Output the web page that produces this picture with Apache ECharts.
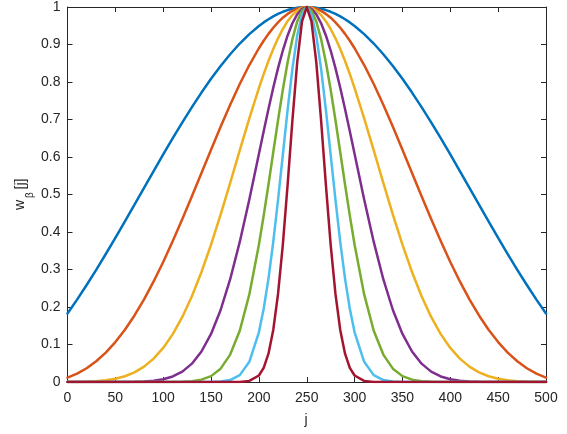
<!DOCTYPE html>
<html>
<head>
<meta charset="utf-8">
<script src="https://cdn.jsdelivr.net/npm/echarts@6/dist/echarts.min.js"></script>
<style>
html,body{margin:0;padding:0;background:#fff;}
#main{width:567px;height:434px;}
</style>
</head>
<body>
<div id="main"></div>
<script>
// j positions (shared sample grid)
const jValues = [0,10,20,30,40,50,60,70,80,90,100,110,120,130,140,150,160,170,180,190,200,
  205,210,215,220,225,230,235,240,245,250,255,260,265,270,275,280,285,290,295,
  300,310,320,330,340,350,360,370,380,390,400,410,420,430,440,450,460,470,480,490,500];

const xTicks = [0,50,100,150,200,250,300,350,400,450,500];
const yTicks = [0,0.1,0.2,0.3,0.4,0.5,0.6,0.7,0.8,0.9,1];

const wBlue = [0.1826,0.2196,0.2586,0.2992,0.3413,0.3845,0.4285,0.4731,0.5179,0.5625,0.6067,0.6501,0.6922,0.7329,0.7718,0.8085,0.8427,0.8741,0.9026,0.9277,0.9494,
  0.9589,0.9674,0.9750,0.9816,0.9872,0.9918,0.9954,0.9979,0.9995,1,0.9995,0.9979,0.9954,0.9918,0.9872,0.9816,0.9750,0.9674,0.9589,
  0.9494,0.9277,0.9026,0.8741,0.8427,0.8085,0.7718,0.7329,0.6922,0.6501,0.6067,0.5625,0.5179,0.4731,0.4285,0.3845,0.3413,0.2992,0.2586,0.2196,0.1826];

const wOrange = [0.0115,0.0222,0.0367,0.0553,0.0785,0.1064,0.1394,0.1774,0.2204,0.2681,0.3202,0.3759,0.4346,0.4955,0.5575,0.6196,0.6806,0.7393,0.7946,0.8453,0.8900,
  0.9099,0.9283,0.9447,0.9591,0.9715,0.9816,0.9896,0.9954,0.9988,1,0.9988,0.9954,0.9896,0.9816,0.9715,0.9591,0.9447,0.9283,0.9099,
  0.8900,0.8453,0.7946,0.7393,0.6806,0.6196,0.5575,0.4955,0.4346,0.3759,0.3202,0.2681,0.2204,0.1774,0.1394,0.1064,0.0785,0.0553,0.0367,0.0222,0.0115];

const wYellow = [0.0000,0.0002,0.0008,0.0020,0.0044,0.0085,0.0153,0.0258,0.0410,0.0623,0.0908,0.1276,0.1735,0.2287,0.2933,0.3662,0.4462,0.5309,0.6177,0.7032,0.7839,
  0.8212,0.8561,0.8880,0.9165,0.9413,0.9621,0.9785,0.9904,0.9976,1,0.9976,0.9904,0.9785,0.9621,0.9413,0.9165,0.8880,0.8561,0.8212,
  0.7839,0.7032,0.6177,0.5309,0.4462,0.3662,0.2933,0.2287,0.1735,0.1276,0.0908,0.0623,0.0410,0.0258,0.0153,0.0085,0.0044,0.0020,0.0008,0.0002,0.0000];

const wPurple = [0,0,0,0,0,0.0001,0.0002,0.0005,0.0014,0.0034,0.0073,0.0148,0.0277,0.0489,0.0813,0.1282,0.1920,0.2741,0.3736,0.4869,0.6081,
  0.6688,0.7281,0.7846,0.8370,0.8839,0.9241,0.9566,0.9805,0.9951,1,0.9951,0.9805,0.9566,0.9241,0.8839,0.8370,0.7846,0.7281,0.6688,
  0.6081,0.4869,0.3736,0.2741,0.1920,0.1282,0.0813,0.0489,0.0277,0.0148,0.0073,0.0034,0.0014,0.0005,0.0002,0.0001,0,0,0,0,0];

const wGreen = [0,0,0,0,0,0,0,0,0,0,0.0001,0.0002,0.0007,0.0022,0.0063,0.0157,0.0356,0.0731,0.1367,0.2336,0.3659,
  0.4436,0.5267,0.6126,0.6980,0.7792,0.8526,0.9143,0.9610,0.9901,1,0.9901,0.9610,0.9143,0.8526,0.7792,0.6980,0.6126,0.5267,0.4436,
  0.3659,0.2336,0.1367,0.0731,0.0356,0.0157,0.0063,0.0022,0.0007,0.0002,0.0001,0,0,0,0,0,0,0,0,0,0];

const wCyan = [0,0,0,0,0,0,0,0,0,0,0,0,0,0,0,0.0002,0.0012,0.0052,0.0183,0.0538,0.1325,
  0.1952,0.2757,0.3734,0.4854,0.6057,0.7257,0.8351,0.9231,0.9802,1,0.9802,0.9231,0.8351,0.7257,0.6057,0.4854,0.3734,0.2757,0.1952,
  0.1325,0.0538,0.0183,0.0052,0.0012,0.0002,0,0,0,0,0,0,0,0,0,0,0,0,0,0,0];

const wRed = [0,0,0,0,0,0,0,0,0,0,0,0,0,0,0,0,0,0,0.0003,0.0029,0.0174,
  0.0378,0.0755,0.1387,0.2348,0.3659,0.5258,0.6968,0.8517,0.9607,1,0.9607,0.8517,0.6968,0.5258,0.3659,0.2348,0.1387,0.0755,0.0378,
  0.0174,0.0029,0.0003,0,0,0,0,0,0,0,0,0,0,0,0,0,0,0,0,0,0];

const seriesValues = [wBlue, wOrange, wYellow, wPurple, wGreen, wCyan, wRed];
const seriesColors = ['#0072BD','#D95319','#EDB120','#7E2F8E','#77AC30','#4DBEEE','#A2142F'];

const axisColor = '#262626';
const fontFamily = '"Liberation Sans", Arial, Helvetica, sans-serif';

function fmtY(v){ const r = Math.round(v*10)/10; return r === 0 ? '0' : (r === 1 ? '1' : r.toFixed(1)); }

function makeX(pos, showLabel){
  return {
    type:'value', min:0, max:500, interval:50, position:pos,
    axisLine:{show:true, onZero:false, lineStyle:{color:axisColor, width:1}},
    axisTick:{show:true, inside:true, length:5, lineStyle:{color:axisColor, width:1}},
    axisLabel:{show:showLabel, color:axisColor, fontSize:14, fontFamily:fontFamily, margin:9},
    splitLine:{show:false}
  };
}
function makeY(pos, showLabel){
  return {
    type:'value', min:0, max:1, interval:0.1, position:pos,
    axisLine:{show:true, onZero:false, lineStyle:{color:axisColor, width:1}},
    axisTick:{show:true, inside:true, length:5, lineStyle:{color:axisColor, width:1}},
    axisLabel:{show:showLabel, color:axisColor, fontSize:14, fontFamily:fontFamily, margin:7, formatter:fmtY},
    splitLine:{show:false}
  };
}

const chart = echarts.init(document.getElementById('main'), null, {renderer:'canvas'});
chart.setOption({
  animation:false,
  backgroundColor:'#ffffff',
  grid:{left:67.5, right:21, top:4, bottom:52},
  xAxis:[makeX('bottom', true), makeX('top', false)],
  yAxis:[makeY('left', true), makeY('right', false)],
  series: seriesValues.map((vals, i) => ({
    type:'line',
    xAxisIndex:0, yAxisIndex:0,
    data: jValues.map((j, k) => [j, vals[k]]),
    showSymbol:false,
    smooth:false,
    lineStyle:{color:seriesColors[i], width:2.5, join:'round', cap:'round'},
    itemStyle:{color:seriesColors[i]},
    z: 2 + i
  })),
  graphic:[
    {type:'text', x:306, y:420, style:{text:'j', fontSize:14, fontFamily:fontFamily, fill:axisColor, textAlign:'center', textVerticalAlign:'middle'}},
    {type:'text', x:20.5, y:205, rotation:Math.PI/2, style:{text:'w', fontSize:14, fontFamily:fontFamily, fill:axisColor, textAlign:'center', textVerticalAlign:'middle'}},
    {type:'text', x:30.5, y:195, rotation:Math.PI/2, style:{text:'β', fontSize:10, fontFamily:fontFamily, fill:axisColor, textAlign:'center', textVerticalAlign:'middle'}},
    {type:'text', x:21, y:184, rotation:Math.PI/2, style:{text:'[j]', fontSize:14, fontFamily:fontFamily, fill:axisColor, textAlign:'center', textVerticalAlign:'middle'}}
  ]
});
</script>
</body>
</html>
